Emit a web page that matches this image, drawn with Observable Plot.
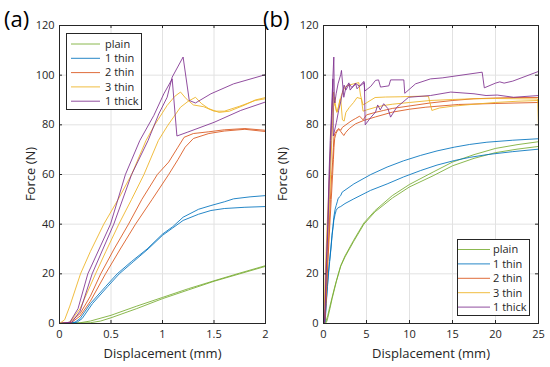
<!DOCTYPE html>
<html><head><meta charset="utf-8">
<script src="https://cdn.jsdelivr.net/npm/d3@7"></script>
<script src="https://cdn.jsdelivr.net/npm/@observablehq/plot@0.6"></script>
<style>
body{margin:0;background:#fff;font-family:"Open Sans",sans-serif;}
#wrap{position:relative;width:550px;height:367px;overflow:hidden;background:#fff}
#row{display:flex}
#row svg{flex:none}
.plabel{position:absolute;font-size:22px;line-height:22px;color:#000;font-family:"Open Sans",sans-serif}
.ylab{position:absolute;width:100px;height:16px;line-height:16px;text-align:center;font-size:13px;color:#262626;transform:rotate(-90deg);transform-origin:50% 50%;font-family:"Open Sans",sans-serif}
.legend{position:absolute;background:#fff;border:1px solid #262626;box-sizing:border-box}
.legend svg{display:block}
</style></head><body>
<div id="wrap"><div id="row"></div>
<div class="plabel" style="left:4px;top:7px">(a)</div>
<div class="plabel" style="left:263px;top:7px">(b)</div>
<div class="ylab" style="left:-20px;top:166px">Force (N)</div>
<div class="ylab" style="left:232px;top:166px">Force (N)</div>
</div>
<script>
// ---- data: [displacement (mm), force (N)] ----
const seriesNames = ["plain", "1 thin", "2 thin", "3 thin", "1 thick"];
const seriesColors = ["#77AC30", "#0072BD", "#D95319", "#EDB120", "#7E2F8E"];
const xTicksA = [0, 0.5, 1, 1.5, 2];
const xTicksB = [0, 5, 10, 15, 20, 25];
const yTicks = [0, 20, 40, 60, 80, 100, 120];

const plain1 = [[0,0],[0.2,0.3],[0.3,1],[0.5,3.3],[0.75,7],[1,10.5],[1.25,14],[1.5,17.2],[1.75,20.3],[2,23.3],[2.5,27.2],[3.5,33.5],[4.7,40.5],[6,45.5],[8,51.5],[10,56],[12.75,61],[15,65],[17.5,68],[20,70.5],[22.5,72],[25,73.2]];
const plain2 = [[0,0],[0.3,0.3],[0.4,1],[0.5,2.3],[0.75,6],[1,10],[1.25,13.5],[1.5,17],[1.75,20],[2,23],[2.5,26.8],[3.5,33],[4.7,40],[6,45],[8,50.5],[10,55],[12.75,59.5],[15,63.5],[17.5,66.5],[20,68.8],[22.5,70.2],[25,71.3]];

const thin1a = [[0,0],[0.15,0.5],[0.2,2],[0.3,8],[0.45,15],[0.56,20],[0.7,25],[0.85,30],[1,36],[1.1,39],[1.2,42.8],[1.35,46],[1.47,47.5],[1.6,49],[1.69,50.2],[1.85,51],[2,51.5],[2.17,52.9],[3.53,56.2],[5.5,60],[7.4,63],[9.3,65.5],[11.3,67.7],[13.2,69.5],[15.2,71],[17,72.1],[19,73],[22,73.8],[25,74.4]];
const thin1b = [[0,0],[0.17,0.5],[0.22,2],[0.32,8],[0.47,15],[0.58,20],[0.72,25],[0.86,30],[1,35.5],[1.1,38.5],[1.2,41.5],[1.35,44],[1.47,45.5],[1.6,46.3],[1.8,46.8],[2,47.1],[2.5,48.3],[3.53,50.2],[5.47,53.6],[7.4,56.2],[9.3,59],[11.3,61.6],[13.2,63.8],[15.2,65.6],[17,66.9],[19,68],[22,69.2],[25,70.2]];

const thin2a = [[0,0],[0.1,0.5],[0.2,4],[0.3,11],[0.4,20],[0.53,30],[0.67,40],[0.8,50],[0.95,60],[1.06,65],[1.15,71],[1.21,75],[1.3,76.5],[1.45,77.2],[1.6,78],[1.8,78.5],[2,77.8],[2.2,79],[2.6,80],[3.2,81.5],[3.7,82.5],[4.2,83.5],[4.6,82],[5,84],[6,85],[7,85.8],[8,86.6],[10,87.6],[12.4,88.8],[15,89.8],[17.5,90.5],[20,90.8],[22.5,91],[25,91]];
const thin2b = [[0,0],[0.12,0.5],[0.2,3],[0.3,9],[0.447,20],[0.59,30],[0.738,40],[0.9,50],[1.06,60],[1.15,66],[1.22,71],[1.3,74.5],[1.45,76.5],[1.6,77.5],[1.8,78.2],[2,77.3],[2.36,75.7],[2.6,77],[3,78.5],[3.72,80.4],[4.7,81.8],[6.05,83.2],[8,85.1],[10,86.3],[11.9,87.1],[15.7,88.2],[20,88.6],[25,89]];

const thin3a = [[0,0],[0.05,1.5],[0.1,7],[0.204,20],[0.3,29],[0.43,40],[0.57,50],[0.7,60],[0.84,73.7],[0.92,79.7],[1.045,87.8],[1.12,91.5],[1.175,93.2],[1.23,90.5],[1.3,88],[1.4,87.3],[1.5,85.5],[1.6,85.5],[1.75,87.5],[1.9,89.8],[2,90.5],[2.2,82],[2.4,81.5],[2.6,85],[3,87],[3.5,89],[3.9,91],[4.4,90.5],[4.6,85.5],[5,86],[6,87],[7,87.8],[8,88.3],[10,89],[12.4,89.8],[15,90.2],[17.5,90.5],[20,90.6],[22.5,90.5],[24.9,90.4],[25,79]];
const thin3b = [[0,0],[0.1,0.5],[0.2,6],[0.35,20],[0.45,29],[0.576,40],[0.7,50],[0.82,60],[0.96,73.7],[1.05,79.7],[1.175,87.1],[1.25,89.5],[1.32,91.1],[1.38,88.5],[1.45,86.5],[1.55,85],[1.65,85.5],[1.8,88],[1.9,90],[2,91],[2.3,94],[2.6,95.5],[3,96],[3.5,96.5],[4.1,97],[4.3,92],[4.6,88],[5.3,89.5],[6,91],[7.2,91.2],[9,91.3],[11,91.5],[12.2,91.5],[12.6,85.8],[13.5,86.8],[15,87.5],[17.5,88.3],[20,89],[22.5,89.5],[25,89.8]];

const thick1a = [[0,0],[0.12,0.5],[0.2,5],[0.317,20],[0.527,40],[0.7,60],[0.86,73.7],[0.964,84.4],[1.045,91.1],[1.094,99.2],[1.2,107.3],[1.26,89.8],[1.32,88.8],[1.47,92.5],[1.69,96.5],[2,100.2],[2.09,101.9],[2.36,91.1],[2.6,95],[2.95,96.9],[3.1,94],[3.72,96.8],[3.9,94.5],[4.69,97.5],[4.81,93.6],[5.5,95.5],[6.05,97.9],[6.4,98.1],[6.63,95.2],[7.6,95.7],[7.8,98.1],[9.34,98.1],[9.45,92.7],[10.7,96.5],[12.44,98.5],[13.8,98.9],[18.45,101.2],[18.7,94.9],[20,96.8],[20.5,97.3],[21,96.8],[22,97.6],[25,101.5]];
const thick1b = [[0,0],[0.1,0.5],[0.18,6],[0.275,20],[0.495,40],[0.64,60],[0.78,73.7],[0.916,83.8],[1.013,92.5],[1.094,98.5],[1.14,75.5],[1.24,77],[1.5,81],[1.76,85.8],[2,89.2],[2.2,93],[2.4,96],[2.6,94],[3,96.5],[3.3,95],[3.8,96.5],[4.2,95.5],[4.75,97],[4.85,80],[5.5,83],[6.05,85.1],[6.3,88],[6.6,86],[7,88.5],[7.5,86.5],[7.8,83.1],[8.5,87],[9.9,91.1],[12.44,91.8],[14.8,93.2],[17.5,92.5],[18.9,91.8],[20.2,92],[22.1,91.1],[25,91.8]];

const curves = [
  ["plain", plain1], ["plain", plain2],
  ["1 thin", thin1a], ["1 thin", thin1b],
  ["2 thin", thin2a], ["2 thin", thin2b],
  ["3 thin", thin3a], ["3 thin", thin3b],
  ["1 thick", thick1a], ["1 thick", thick1b]
];
const rows = curves.flatMap(([name, pts], i) => pts.map(([x, y]) => ({id: i, name, x, y})));

const W = 275, H = 367, MT = 25, MB = 44;
const FH = H - MT - MB;
const ink = "#262626";

function panel(domain, xTicks, ml, mr) {
  const FW = W - ml - mr;
  return Plot.plot({
    width: W, height: H, marginTop: MT, marginBottom: MB, marginLeft: ml, marginRight: mr,
    style: {fontFamily: "'Open Sans', sans-serif", fontSize: "11px", color: ink, background: "white"},
    x: {domain, ticks: xTicks, tickSize: 0, tickPadding: 7, tickFormat: d => String(d), label: null},
    y: {domain: [0, 120], ticks: yTicks, tickSize: 0, tickPadding: 5, label: null},
    color: {domain: seriesNames, range: seriesColors},
    marks: [
      Plot.ruleX(xTicks, {x: d => d, stroke: "#e2e2e2"}),
      Plot.ruleY(yTicks, {y: d => d, stroke: "#e2e2e2"}),
      Plot.line(rows, {x: "x", y: "y", z: "id", stroke: "name", strokeWidth: 1, strokeOpacity: 0.85, clip: true}),
      Plot.tickX(xTicks, {x: d => d, insetTop: FH - 3, stroke: ink}),
      Plot.tickX(xTicks, {x: d => d, insetBottom: FH - 3, stroke: ink}),
      Plot.tickY(yTicks, {y: d => d, insetRight: FW - 3, stroke: ink}),
      Plot.tickY(yTicks, {y: d => d, insetLeft: FW - 3, stroke: ink}),
      Plot.frame({stroke: ink}),
      Plot.text(["Displacement (mm)"], {frameAnchor: "bottom", dy: 34, fontSize: 13, fill: ink})
    ]
  });
}

const row = document.getElementById("row");
row.append(panel([0, 2], xTicksA, 59, 10));
row.append(panel([0, 25], xTicksB, 48, 12));

function legend(left, top, w, h, lx1, lx2, tx, y0, dy) {
  const div = document.createElement("div");
  div.className = "legend";
  Object.assign(div.style, {left: left + "px", top: top + "px", width: w + "px", height: h + "px"});
  const svg = d3.create("svg").attr("width", w - 2).attr("height", h - 2);
  seriesNames.forEach((name, i) => {
    const y = y0 + i * dy;
    svg.append("line").attr("x1", lx1).attr("x2", lx2).attr("y1", y).attr("y2", y)
      .attr("stroke", seriesColors[i]).attr("stroke-width", 1).attr("stroke-opacity", 0.85);
    svg.append("text").attr("x", tx).attr("y", y).attr("dy", "0.35em")
      .attr("font-size", 11).attr("font-family", "'Open Sans', sans-serif").attr("fill", ink).text(name);
  });
  div.append(svg.node());
  document.getElementById("wrap").append(div);
}
legend(66, 33, 76, 77, 4, 33, 38, 10, 14.3);
legend(457, 239, 73, 77, 0, 32, 35, 9.5, 14.4);
</script>
</body></html>
